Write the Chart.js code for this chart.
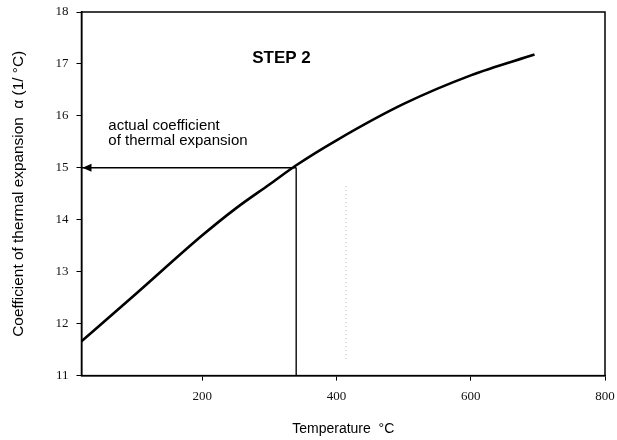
<!DOCTYPE html>
<html>
<head>
<meta charset="utf-8">
<script src="https://cdn.jsdelivr.net/npm/chart.js@4.4.1/dist/chart.umd.min.js"></script>
<style>
  html, body { margin: 0; padding: 0; background: #fff; }
  #wrap { width: 617px; height: 440px; }
</style>
</head>
<body>
<div id="wrap"><canvas id="chart" width="617" height="440"></canvas></div>
<script>
// 곡선 데이터 (온도 °C, 열팽창계수)
const temps = [20, 100, 200, 250, 300, 340, 400, 500, 600, 695];
const alphas = [11.66, 12.56, 13.70, 14.22, 14.68, 15.05, 15.53, 16.23, 16.78, 17.18];

// 읽어낸 값 (STEP 2)
const readTemp = [340];
const readAlpha = [15];

// 스캔 잡티 (희미한 점선)
const faintTemp = [414];
const faintAlpha = [14.65, 11.3];

// 축 눈금
const xTicks = [200, 400, 600, 800];
const yTicks = [11, 12, 13, 14, 15, 16, 17, 18];
const xMin = 20, xMax = 800, yMin = 11, yMax = 18;

const curvePoints = temps.map((t, i) => ({ x: t, y: alphas[i] }));
const hLine = [{ x: readTemp[0], y: readAlpha[0] }, { x: xMin, y: readAlpha[0] }];
const vLine = [{ x: readTemp[0], y: readAlpha[0] }, { x: readTemp[0], y: yMin }];
const faintLine = faintAlpha.map(a => ({ x: faintTemp[0], y: a }));

// 테두리 상자 + 화살표 + 글자
const decorPlugin = {
    id: 'decor',
    afterDatasetsDraw(chart) {
        const { ctx, chartArea: a, scales: { x, y } } = chart;
        ctx.save();

        // 상자
        ctx.strokeStyle = '#000';
        ctx.lineWidth = 1.5;
        ctx.strokeRect(a.left, a.top, a.right - a.left, a.bottom - a.top);

        // 화살표 머리
        const ty = y.getPixelForValue(readAlpha[0]);
        const tx = a.left + 1;
        ctx.fillStyle = '#000';
        ctx.beginPath();
        ctx.moveTo(tx, ty);
        ctx.lineTo(tx + 9, ty - 4);
        ctx.lineTo(tx + 9, ty + 4);
        ctx.closePath();
        ctx.fill();

        // 글자
        ctx.fillStyle = '#000';
        ctx.textBaseline = 'middle';
        ctx.textAlign = 'center';
        ctx.font = 'bold 17px "Liberation Sans", Arial, sans-serif';
        ctx.fillText('STEP 2', x.getPixelForValue(318), y.getPixelForValue(17.1));

        ctx.textAlign = 'left';
        ctx.font = '15px "Liberation Sans", Arial, sans-serif';
        const lx = x.getPixelForValue(60);
        ctx.fillText('actual coefficient', lx, y.getPixelForValue(15.8));
        ctx.fillText('of thermal expansion', lx, y.getPixelForValue(15.52));
        ctx.restore();
    }
};

const tickFont = { family: '"Liberation Serif", "Times New Roman", serif', size: 13 };
const titleFont = { family: '"Liberation Sans", Arial, sans-serif', size: 15.4 };

new Chart(document.getElementById('chart').getContext('2d'), {
    type: 'scatter',
    data: {
        datasets: [
            {
                data: curvePoints,
                showLine: true,
                borderColor: '#000',
                borderWidth: 2.6,
                pointRadius: 0,
                cubicInterpolationMode: 'monotone'
            },
            {
                data: hLine,
                showLine: true,
                borderColor: '#000',
                borderWidth: 1.5,
                pointRadius: 0
            },
            {
                data: vLine,
                showLine: true,
                borderColor: '#222',
                borderWidth: 1,
                pointRadius: 0
            },
            {
                data: faintLine,
                showLine: true,
                borderColor: '#bbb',
                borderWidth: 1,
                borderDash: [1, 3],
                pointRadius: 0
            }
        ]
    },
    options: {
        responsive: false,
        animation: false,
        layout: { padding: { top: 12, right: 12, left: 10, bottom: 0 } },
        plugins: {
            legend: { display: false },
            tooltip: { enabled: false }
        },
        scales: {
            x: {
                type: 'linear',
                min: xMin,
                max: xMax,
                afterBuildTicks: s => { s.ticks = xTicks.map(v => ({ value: v })); },
                afterFit: s => { s.paddingLeft = 0; s.paddingRight = 0; },
                grid: { display: true, drawOnChartArea: false, drawTicks: true, tickLength: 5, color: '#000' },
                border: { display: true, color: '#000', width: 1.5 },
                ticks: { color: '#111', font: tickFont, padding: 8, maxRotation: 0 },
                title: {
                    display: true,
                    text: 'Temperature  °C',
                    color: '#000',
                    font: { ...titleFont, size: 14 },
                    padding: { top: 9, bottom: 2 }
                }
            },
            y: {
                min: yMin,
                max: yMax,
                afterBuildTicks: s => { s.ticks = yTicks.map(v => ({ value: v })); },
                afterFit: s => { s.paddingTop = 0; s.paddingBottom = 0; },
                grid: { display: true, drawOnChartArea: false, drawTicks: true, tickLength: 5, color: '#000' },
                border: { display: true, color: '#000', width: 1.5 },
                ticks: { color: '#111', font: tickFont, padding: 8 },
                title: {
                    display: true,
                    text: 'Coefficient of thermal expansion  α (1/ °C)',
                    color: '#000',
                    font: titleFont,
                    padding: { top: 0, bottom: 19 }
                }
            }
        }
    },
    plugins: [decorPlugin]
});
</script>
</body>
</html>
